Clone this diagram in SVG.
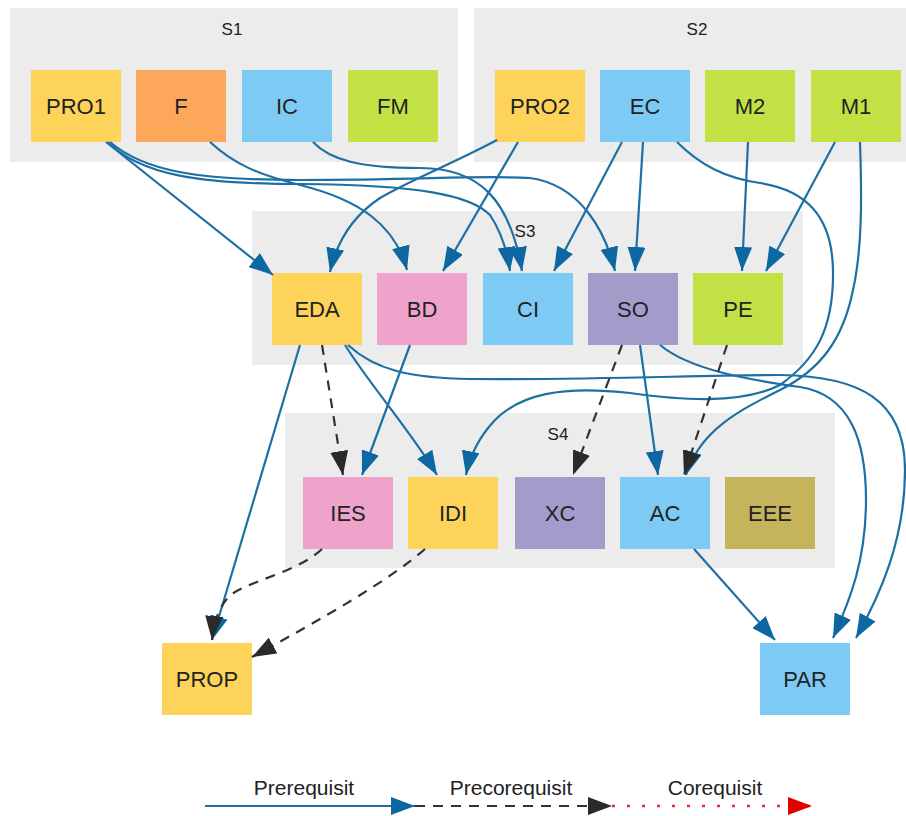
<svg xmlns="http://www.w3.org/2000/svg" width="906" height="816" viewBox="0 0 906 816">
<defs>
<style>
.cl{fill:#ececec}
.cll{font-family:"Liberation Sans",Arial,sans-serif;font-size:17px;fill:#222;text-anchor:middle}
.n text{font-family:"Liberation Sans",Arial,sans-serif;font-size:22px;fill:#222;text-anchor:middle}
.yl{fill:#fdd35a}.or{fill:#fda75b}.bl{fill:#7dcbf5}.gr{fill:#c2e145}.pk{fill:#efa3cb}.pu{fill:#a39ccb}.ol{fill:#c6b45c}
.p{fill:none;stroke:#1e70a4;stroke-width:2.2;marker-end:url(#ab)}
.d{fill:none;stroke:#333;stroke-width:2.2;stroke-dasharray:10,8;marker-end:url(#ak)}
.r{fill:none;stroke:#e53030;stroke-width:2.5;stroke-dasharray:3,12;marker-end:url(#ar)}
.lg{font-family:"Liberation Sans",Arial,sans-serif;font-size:21px;fill:#222;text-anchor:middle}
</style>
<marker id="ab" markerUnits="userSpaceOnUse" markerWidth="24" markerHeight="18" refX="24" refY="9" orient="auto"><path d="M0,0 L24,9 L0,18 z" fill="#0c67a3"/></marker>
<marker id="ak" markerUnits="userSpaceOnUse" markerWidth="24" markerHeight="18" refX="24" refY="9" orient="auto"><path d="M0,0 L24,9 L0,18 z" fill="#2a2a2a"/></marker>
<marker id="ar" markerUnits="userSpaceOnUse" markerWidth="24" markerHeight="18" refX="24" refY="9" orient="auto"><path d="M0,0 L24,9 L0,18 z" fill="#e00000"/></marker>
</defs>
<rect width="906" height="816" fill="#ffffff"/>
<g id="clusters">
<g id="S1"><rect class="cl" x="10" y="8" width="448" height="154"/><text class="cll" x="232" y="35">S1</text></g>
<g id="S2"><rect class="cl" x="474" y="8" width="440" height="154"/><text class="cll" x="697" y="35">S2</text></g>
<g id="S3"><rect class="cl" x="252" y="211" width="551" height="154"/><text class="cll" x="525" y="237">S3</text></g>
<g id="S4"><rect class="cl" x="285" y="413" width="550" height="155"/><text class="cll" x="558" y="440">S4</text></g>
</g>
<g id="nodes">
<g id="PRO1" class="n"><rect class="yl" x="31" y="70" width="90" height="72"/><text x="76" y="114">PRO1</text></g>
<g id="F" class="n"><rect class="or" x="136" y="70" width="90" height="72"/><text x="181" y="114">F</text></g>
<g id="IC" class="n"><rect class="bl" x="242" y="70" width="90" height="72"/><text x="287" y="114">IC</text></g>
<g id="FM" class="n"><rect class="gr" x="348" y="70" width="90" height="72"/><text x="393" y="114">FM</text></g>
<g id="PRO2" class="n"><rect class="yl" x="495" y="70" width="90" height="72"/><text x="540" y="114">PRO2</text></g>
<g id="EC" class="n"><rect class="bl" x="600" y="70" width="90" height="72"/><text x="645" y="114">EC</text></g>
<g id="M2" class="n"><rect class="gr" x="705" y="70" width="90" height="72"/><text x="750" y="114">M2</text></g>
<g id="M1" class="n"><rect class="gr" x="811" y="70" width="90" height="72"/><text x="856" y="114">M1</text></g>
<g id="EDA" class="n"><rect class="yl" x="272" y="273" width="90" height="72"/><text x="317" y="317">EDA</text></g>
<g id="BD" class="n"><rect class="pk" x="377" y="273" width="90" height="72"/><text x="422" y="317">BD</text></g>
<g id="CI" class="n"><rect class="bl" x="483" y="273" width="90" height="72"/><text x="528" y="317">CI</text></g>
<g id="SO" class="n"><rect class="pu" x="588" y="273" width="90" height="72"/><text x="633" y="317">SO</text></g>
<g id="PE" class="n"><rect class="gr" x="693" y="273" width="90" height="72"/><text x="738" y="317">PE</text></g>
<g id="IES" class="n"><rect class="pk" x="303" y="477" width="90" height="72"/><text x="348" y="521">IES</text></g>
<g id="IDI" class="n"><rect class="yl" x="408" y="477" width="90" height="72"/><text x="453" y="521">IDI</text></g>
<g id="XC" class="n"><rect class="pu" x="515" y="477" width="90" height="72"/><text x="560" y="521">XC</text></g>
<g id="AC" class="n"><rect class="bl" x="620" y="477" width="90" height="72"/><text x="665" y="521">AC</text></g>
<g id="EEE" class="n"><rect class="ol" x="725" y="477" width="90" height="72"/><text x="770" y="521">EEE</text></g>
<g id="PROP" class="n"><rect class="yl" x="162" y="643" width="90" height="72"/><text x="207" y="687">PROP</text></g>
<g id="PAR" class="n"><rect class="bl" x="760" y="643" width="90" height="72"/><text x="805" y="687">PAR</text></g>
</g>
<g id="connectors">
<path class="p" d="M106,142 L273,275"/>
<path class="p" d="M108,142 C140,175 200,184 300,184 C420,185 470,195 490,215 C500,230 507,250 510,271"/>
<path class="p" d="M110,142 C145,172 200,180 300,180 C420,180 480,175 530,178 C580,185 605,230 615,271"/>
<path class="p" d="M313,142 C330,160 360,168 420,168 C480,168 510,200 522,271"/>
<path class="p" d="M210,142 C235,165 260,175 300,185 C360,200 395,225 407,270"/>
<path class="p" d="M497,140 C450,165 410,180 380,198 C350,218 336,245 330,272"/>
<path class="p" d="M518,142 L443,271"/>
<path class="p" d="M622,142 L554,271"/>
<path class="p" d="M643,142 L635,271"/>
<path class="p" d="M677,142 C700,165 725,178 760,183 C805,190 832,215 833,270 C834,330 815,360 780,385 C740,405 680,400 630,393 C560,385 520,395 495,420 C480,436 470,455 466,475"/>
<path class="p" d="M748,142 L742,271"/>
<path class="p" d="M835,142 L766,271"/>
<path class="p" d="M860,142 C862,200 862,250 853,290 C843,340 820,370 780,390 C740,410 700,430 686,475"/>
<path class="p" d="M300,345 L212,640"/>
<path class="p" d="M410,345 L362,475"/>
<path class="p" d="M345,345 C370,385 410,430 437,475"/>
<path class="p" d="M348,345 C375,370 410,378 470,379 C600,380 700,375 780,375 C860,376 905,400 905,470 C905,540 880,595 856,638"/>
<path class="p" d="M640,345 L658,475"/>
<path class="p" d="M660,345 C690,370 750,380 800,387 C850,395 866,440 866,500 C866,560 850,600 833,638"/>
<path class="p" d="M694,549 L775,640"/>
<path class="d" d="M322,345 L343,475"/>
<path class="d" d="M622,345 L573,475"/>
<path class="d" d="M727,345 L684,475"/>
<path class="d" d="M322,549 C300,570 260,578 235,592 C222,600 214,618 212,640"/>
<path class="d" d="M425,549 C390,580 320,620 252,657"/>
</g>
<g id="legend">
<text class="lg" x="304" y="795">Prerequisit</text>
<text class="lg" x="511" y="795">Precorequisit</text>
<text class="lg" x="715" y="795">Corequisit</text>
<path class="p" d="M205,806 L415,806"/>
<path class="d" d="M415,806 L612,806"/>
<path class="r" d="M612,806 L812,806"/>
</g>
</svg>
